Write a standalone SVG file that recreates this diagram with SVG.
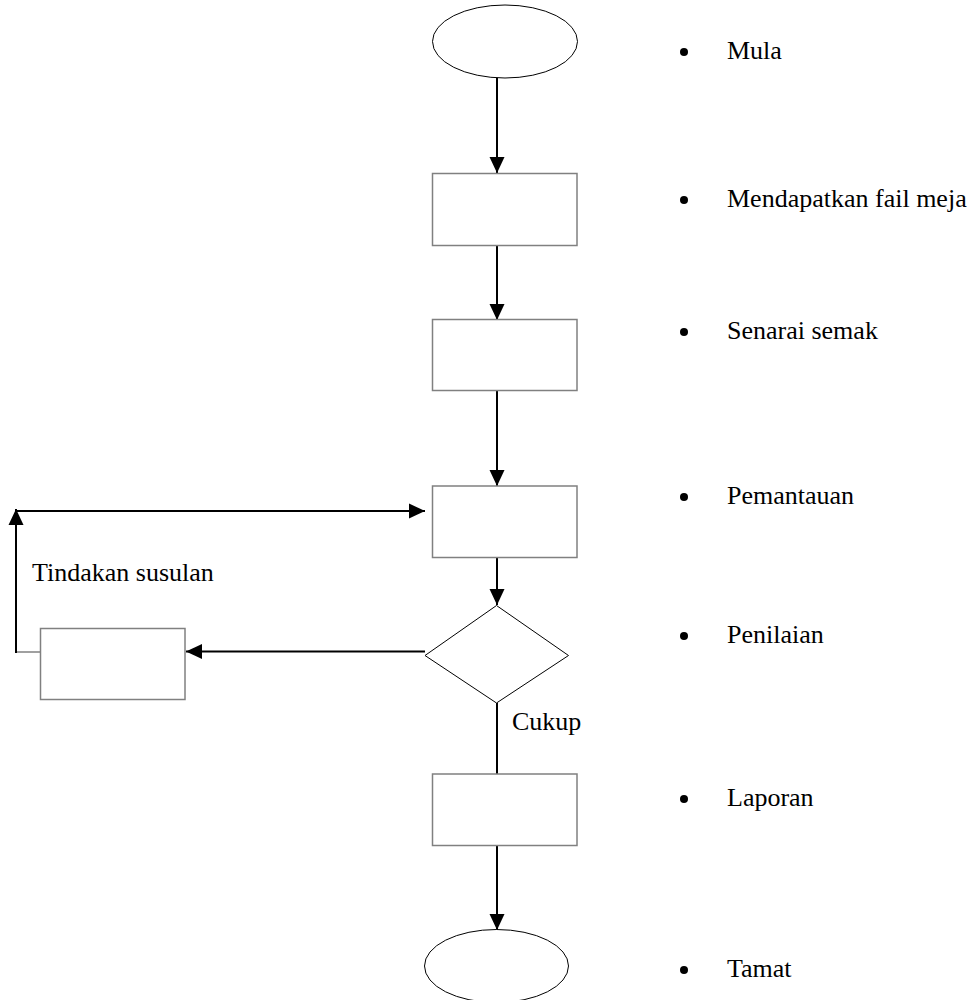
<svg xmlns="http://www.w3.org/2000/svg" width="979" height="1000" viewBox="0 0 979 1000">
  <style>
    .box { fill: #ffffff; stroke: #808080; stroke-width: 1.5; }
    .term { fill: #ffffff; stroke: #000000; stroke-width: 1; }
    .flow { fill: none; stroke: #000000; stroke-width: 2; }
    .thin { fill: none; stroke: #808080; stroke-width: 1.5; }
    .lbl { font-size: 26px; fill: #000000; }
    .dot { fill: #000000; }
  </style>
  <defs>
    <marker id="arrow" markerUnits="userSpaceOnUse" markerWidth="16" markerHeight="16" refX="16" refY="8" orient="auto">
      <path d="M0,0.5 L16,8 L0,15.5 Z" fill="#000000"/>
    </marker>
  </defs>

  <rect width="979" height="1000" fill="#ffffff"/>

  <!-- flowchart connectors -->
  <g id="connectors">
    <line class="flow" x1="497" y1="78" x2="497" y2="173" marker-end="url(#arrow)"/>
    <line class="flow" x1="497" y1="246" x2="497" y2="320" marker-end="url(#arrow)"/>
    <line class="flow" x1="497" y1="391" x2="497" y2="486" marker-end="url(#arrow)"/>
    <line class="flow" x1="497" y1="557" x2="497" y2="605" marker-end="url(#arrow)"/>
    <line class="flow" x1="425" y1="651.5" x2="186" y2="651.5" marker-end="url(#arrow)"/>
    <line class="thin" x1="40" y1="652" x2="16" y2="652"/>
    <line class="flow" x1="16" y1="653" x2="16" y2="509" marker-end="url(#arrow)"/>
    <line class="flow" x1="15" y1="511" x2="425" y2="511" marker-end="url(#arrow)"/>
    <line class="flow" x1="497" y1="703" x2="497" y2="774"/>
    <line class="flow" x1="497" y1="846" x2="497" y2="930" marker-end="url(#arrow)"/>
  </g>

  <!-- nodes -->
  <g id="start">
    <ellipse class="term" cx="505" cy="41.5" rx="72.5" ry="36.5"/>
  </g>
  <g id="get-file">
    <rect class="box" x="432.5" y="173.5" width="144.5" height="72"/>
  </g>
  <g id="checklist">
    <rect class="box" x="432.5" y="319.5" width="144.5" height="71"/>
  </g>
  <g id="monitoring">
    <rect class="box" x="432.5" y="486" width="144.5" height="71.5"/>
  </g>
  <g id="evaluation">
    <polygon class="term" points="496.5,605.5 568.5,655.5 496.5,703 425,655.5"/>
  </g>
  <g id="follow-up">
    <rect class="box" x="40.5" y="628.5" width="144.5" height="71"/>
  </g>
  <g id="report">
    <rect class="box" x="432.5" y="774" width="144.5" height="71.5"/>
  </g>
  <g id="end">
    <ellipse class="term" cx="496.5" cy="966" rx="72" ry="36.5"/>
  </g>

  <!-- branch labels -->
  <g id="branch-labels" font-family="'Liberation Serif', 'DejaVu Serif', serif">
    <text class="lbl" x="32" y="581">Tindakan susulan</text>
    <text class="lbl" x="512" y="730">Cukup</text>
  </g>

  <!-- step list -->
  <g id="step-list" font-family="'Liberation Serif', 'DejaVu Serif', serif">
    <circle class="dot" cx="684" cy="52" r="4"/>
    <text class="lbl" x="727" y="59">Mula</text>
    <circle class="dot" cx="684" cy="200" r="4"/>
    <text class="lbl" x="727" y="207">Mendapatkan fail meja</text>
    <circle class="dot" cx="684" cy="332" r="4"/>
    <text class="lbl" x="727" y="339">Senarai semak</text>
    <circle class="dot" cx="684" cy="497" r="4"/>
    <text class="lbl" x="727" y="504">Pemantauan</text>
    <circle class="dot" cx="684" cy="636" r="4"/>
    <text class="lbl" x="727" y="643">Penilaian</text>
    <circle class="dot" cx="684" cy="799" r="4"/>
    <text class="lbl" x="727" y="806">Laporan</text>
    <circle class="dot" cx="684" cy="970" r="4"/>
    <text class="lbl" x="727" y="977">Tamat</text>
  </g>
</svg>
